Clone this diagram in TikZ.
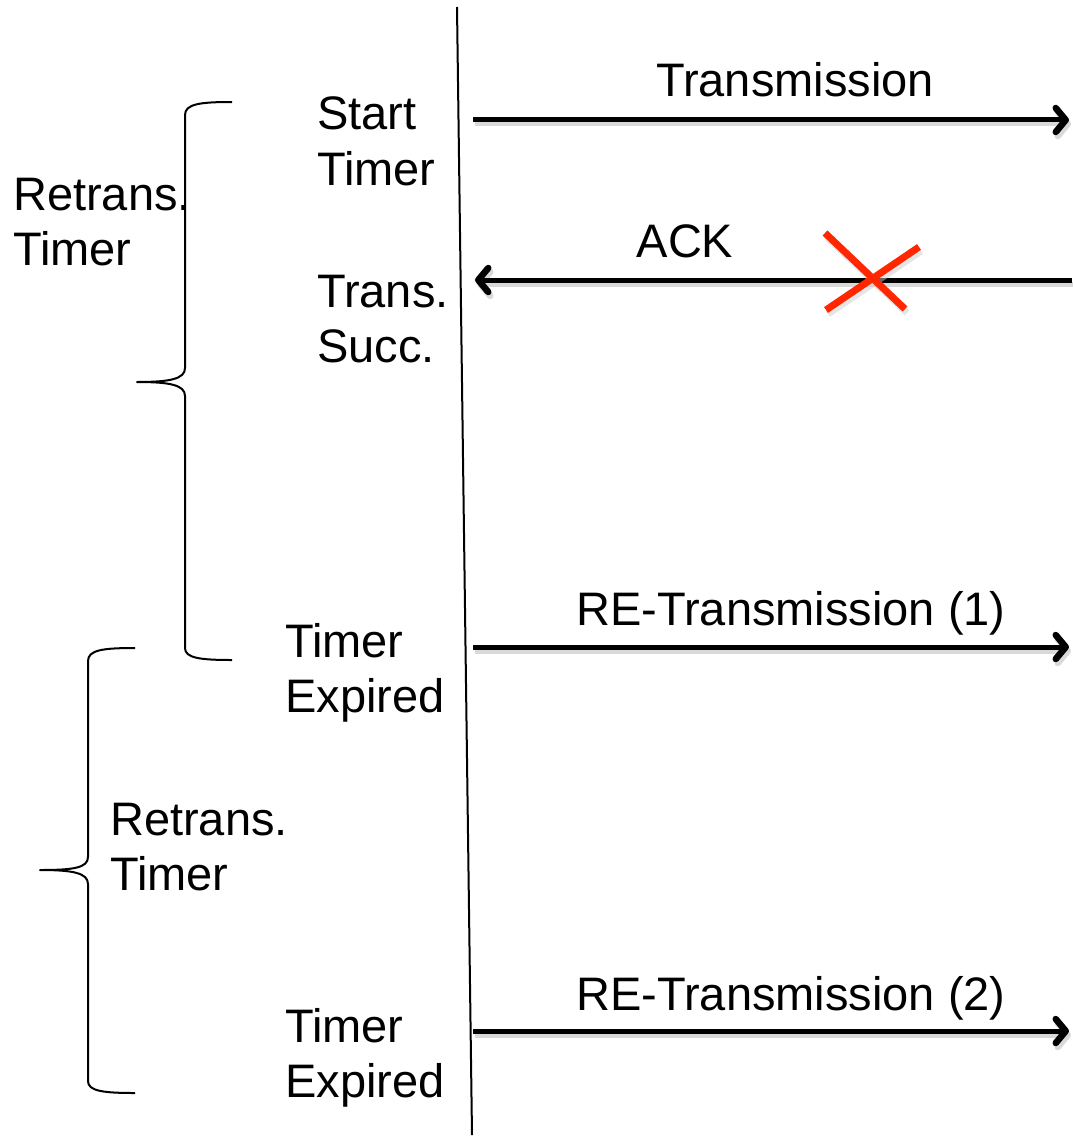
\documentclass[tikz,border=0pt]{standalone}
\usepackage{fontspec}
\setmainfont{Liberation Sans}
\usetikzlibrary{arrows.meta}
\begin{document}
\begin{tikzpicture}[x=1pt,y=-1pt,
  lbl/.style={inner sep=0pt, font=\fontsize{47}{55}\selectfont},
  side/.style={lbl, anchor=base west, align=left},
  msg/.style={lbl, anchor=base},
  sig/.style={line width=5pt, -{Straight Barb[length=10pt,width=24pt,line width=6.5pt,round]}},
  sigshadow/.style={sig, draw=black!25, opacity=0.6},
  brace/.style={line width=2pt, line join=round},
  cross/.style={line width=7pt, draw={rgb,255:red,255;green,38;blue,0}}]
\useasboundingbox (0,0) rectangle (1072,1137);

% time line of the sender
\coordinate (top) at (457,7);
\coordinate (bot) at (472,1135);
\draw[line width=2pt] (top) -- (bot);

% message end points
\coordinate (t1s) at (473,120);  \coordinate (t1e) at (1069,120);
\coordinate (a1s) at (1072,280); \coordinate (a1e) at (475,280);
\coordinate (r1s) at (473,647);  \coordinate (r1e) at (1069,647);
\coordinate (r2s) at (473,1031); \coordinate (r2e) at (1069,1031);

% soft shadows under the messages
\foreach \s/\e in {t1s/t1e, a1s/a1e, r1s/r1e, r2s/r2e}
  \draw[sigshadow] ([shift={(2,4)}]\s) -- ([shift={(2,4)}]\e);

\draw[sig] (t1s) -- (t1e);
\draw[sig] (a1s) -- (a1e);
\draw[sig] (r1s) -- (r1e);
\draw[sig] (r2s) -- (r2e);

% lost acknowledgement
\coordinate (x1a) at (825,233); \coordinate (x1b) at (905,309);
\coordinate (x2a) at (826,310); \coordinate (x2b) at (919,247);
\draw[cross, draw=black!20, opacity=0.5] ([shift={(2,4)}]x1a) -- ([shift={(2,4)}]x1b);
\draw[cross, draw=black!20, opacity=0.5] ([shift={(2,4)}]x2a) -- ([shift={(2,4)}]x2b);
\draw[cross] (x1a) -- (x1b);
\draw[cross] (x2a) -- (x2b);

% message labels
\node[msg] (ltx)  at (795,97)   {Transmission};
\node[msg] (lack) at (685,257)  {ACK};
\node[msg] (lr1)  at (791,625)  {RE-Transmission (1)};
\node[msg] (lr2)  at (791,1010) {RE-Transmission (2)};

% events on the time line (anchored at the last line's baseline)
\node[side] (start) at (317,185)  {Start\\Timer};
\node[side] (succ)  at (317,362)  {Trans.\\Succ.};
\node[side] (exp1)  at (285,712)  {Timer\\Expired};
\node[side] (exp2)  at (285,1097) {Timer\\Expired};

% retransmission timer spans
\node[side] (rt1) at (13,265)  {Retrans.\\Timer};
\node[side] (rt2) at (110,890) {Retrans.\\Timer};

\draw[brace] (232,102) .. controls (200,102) and (185,104) .. (185,115)
  -- (185,368) .. controls (185,379) and (170,382) .. (137,382)
  .. controls (170,382) and (185,385) .. (185,396)
  -- (185,648) .. controls (185,658) and (200,660) .. (232,660);
\draw[brace] (135,648) .. controls (103,648) and (88,650) .. (88,661)
  -- (88,857) .. controls (88,868) and (73,870) .. (40,870)
  .. controls (73,870) and (88,873) .. (88,884)
  -- (88,1081) .. controls (88,1091) and (103,1093) .. (135,1093);
\end{tikzpicture}
\end{document}
